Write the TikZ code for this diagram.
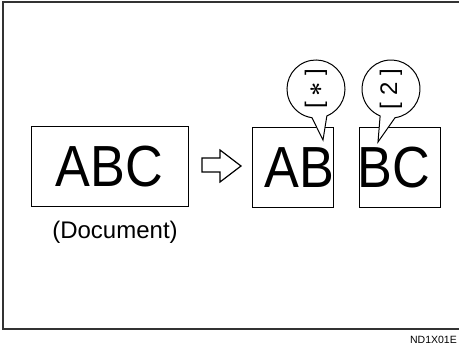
\documentclass[tikz,border=0pt]{standalone}
\usepackage{fontspec}
\setmainfont{Liberation Sans}
\newfontfamily\bigabcfont[FakeStretch=0.9]{Liberation Sans}
\usetikzlibrary{calc}
\begin{document}
\begin{tikzpicture}[x=1pt,y=-1pt,
  frame/.style={line width=1.6pt, draw=black!80},
  boxline/.style={draw=black, line width=1pt},
  bigtext/.style={font=\bigabcfont\fontsize{58}{58}\selectfont, inner sep=0pt},
  captext/.style={font=\fontsize{24}{24}\selectfont, inner sep=0pt},
  stamptext/.style={font=\fontsize{24}{24}\selectfont, inner sep=0pt, rotate=90},
  bubble/.style={draw=black, line width=1pt, fill=white},
  hollowarrow/.style={draw=black, line width=1.2pt, fill=white, line join=miter},
  codetext/.style={font=\fontsize{10.5}{10.5}\selectfont, inner sep=0pt}]
\useasboundingbox (0,0) rectangle (459,347);
% outer frame (open on the right)
\draw[frame] (459,2) -- (3,2) -- (3,329) -- (459,329);
% original document
\draw[boxline] (31,127) rectangle (188,207);
\node[bigtext, anchor=base] (abc) at (109.5,187) {ABC};
\node[captext, anchor=base] (doclabel) at (115,239) {(Document)};
% hollow arrow
\draw[hollowarrow] (202,158) -- (220,158) -- (220,150) -- (241,166) -- (220,182) -- (220,172) -- (202,172) -- cycle;
% split part 1
\begin{scope}
  \clip (252,128) rectangle (333,208);
  \node[bigtext, anchor=base west] (ab) at (264,188) {AB};
\end{scope}
\draw[boxline] (252,128) rectangle (333,208);
% split part 2
\begin{scope}
  \clip (359,128) rectangle (440,208);
  \node[bigtext, anchor=base west] (bc) at (357.5,188) {BC};
\end{scope}
\draw[boxline] (359,128) rectangle (440,208);
% bubble 1
\coordinate (tip1) at (323,140);
\draw[bubble] (tip1) -- ($(316,89)+(68:29)$) arc[start angle=68, end angle=-262, radius=29] -- cycle;
\node[stamptext] (s1) at (316,89) {[\hspace{6pt}\smash{\fontsize{28}{28}\selectfont\boldmath$\ast$}\hspace{6pt}]};
% bubble 2
\coordinate (tip2) at (378,142);
\draw[bubble] (tip2) -- ($(391,89)+(82:29)$) arc[start angle=82, end angle=-248, radius=29] -- cycle;
\node[stamptext] (s2) at (391,89) {[ 2 ]};
% code
\node[codetext, anchor=base east] (code) at (457,344) {ND1X01E};
\end{tikzpicture}
\end{document}
